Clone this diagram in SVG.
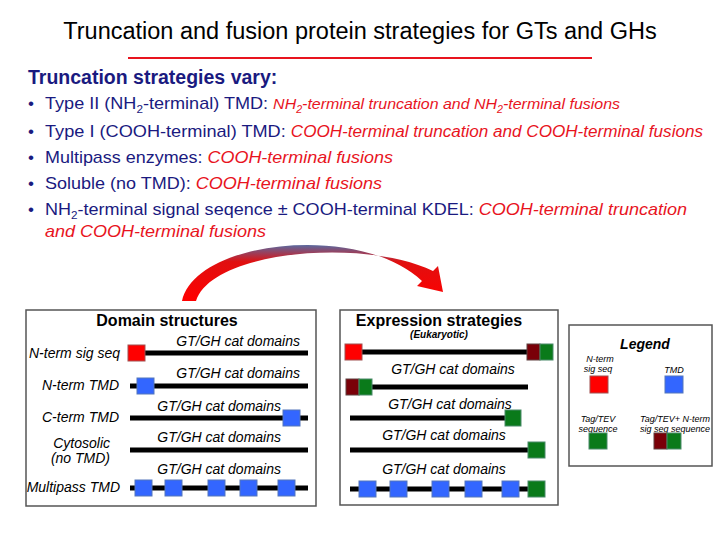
<svg xmlns="http://www.w3.org/2000/svg" width="720" height="540" viewBox="0 0 720 540">
<defs>
<linearGradient id="ag" x1="0" y1="0" x2="0" y2="1"><stop offset="0" stop-color="#5a6aa0"/><stop offset="0.3" stop-color="#e01010"/><stop offset="1" stop-color="#ff0000"/></linearGradient>
</defs>
<style>
text{font-family:"Liberation Sans",Arial,sans-serif}
.b{font-size:17px;fill:#1a1a80}
.r{fill:#e8141e;font-style:italic}
.lab{font-size:14px;font-style:italic;fill:#000}
.box{fill:#fff;stroke:#555;stroke-width:1.5}
.bar{stroke:#000;stroke-width:5}
.red{fill:#f00;stroke:#a05050;stroke-width:1}
.blu{fill:#3366ff;stroke:#5577bb;stroke-width:1}
.grn{fill:#0a7a1a;stroke:#4a8a6a;stroke-width:1}
.dr{fill:#7a0008;stroke:#604040;stroke-width:1}
</style>
<rect width="720" height="540" fill="#fff"/>
<text x="360" y="39" font-size="23.5" text-anchor="middle">Truncation and fusion protein strategies for GTs and GHs</text>
<line x1="128" y1="58" x2="592" y2="58" stroke="#e8141e" stroke-width="2"/>
<text x="28" y="84" font-size="19.5" font-weight="bold" fill="#1a1a80">Truncation strategies vary:</text>
<g class="b">
<text x="28" y="109" class="b">•</text>
<text x="28" y="137" class="b">•</text>
<text x="28" y="163" class="b">•</text>
<text x="28" y="189" class="b">•</text>
<text x="28" y="215" class="b">•</text>
<text x="45" y="109" class="b" textLength="575" lengthAdjust="spacingAndGlyphs">Type II (NH<tspan font-size="11" dy="4">2</tspan><tspan dy="-4">-terminal) TMD: </tspan><tspan class="r" font-size="15">NH<tspan font-size="10" dy="4">2</tspan><tspan dy="-4">-terminal truncation and NH</tspan><tspan font-size="10" dy="4">2</tspan><tspan dy="-4">-terminal fusions</tspan></tspan></text>
<text x="45" y="137" class="b" textLength="658" lengthAdjust="spacingAndGlyphs">Type I (COOH-terminal) TMD: <tspan class="r" font-size="16">COOH-terminal truncation and COOH-terminal fusions</tspan></text>
<text x="45" y="163" class="b" textLength="348" lengthAdjust="spacingAndGlyphs">Multipass enzymes: <tspan class="r">COOH-terminal fusions</tspan></text>
<text x="45" y="189" class="b" textLength="337" lengthAdjust="spacingAndGlyphs">Soluble (no TMD): <tspan class="r">COOH-terminal fusions</tspan></text>
<text x="45" y="215" class="b" textLength="642" lengthAdjust="spacingAndGlyphs">NH<tspan font-size="11" dy="4">2</tspan><tspan dy="-4">-terminal signal seqence ± COOH-terminal KDEL: </tspan><tspan class="r">COOH-terminal truncation</tspan></text>
<text x="45" y="237" class="b" textLength="221" lengthAdjust="spacingAndGlyphs"><tspan class="r">and COOH-terminal fusions</tspan></text>
</g>
<g id="arrow">
<path d="M182,301 C195,240 360,222 422,281 L417,286 L443,292 L438,266 L433,271 C365,238 212,250 196,301 Z" fill="url(#ag)"/>
</g>
<g id="domain">
<rect class="box" x="26" y="310" width="290" height="196"/>
<text x="167" y="326" font-size="16" font-weight="bold" text-anchor="middle">Domain structures</text>
<g class="lab" text-anchor="end">
<text x="120" y="358">N-term sig seq</text>
<text x="119" y="390">N-term TMD</text>
<text x="119" y="422">C-term TMD</text>
<text x="110" y="448">Cytosolic</text>
<text x="110" y="463">(no TMD)</text>
<text x="120" y="492">Multipass TMD</text>
</g>
<g class="lab" text-anchor="end">
<text x="300" y="346">GT/GH cat domains</text>
<text x="300" y="378">GT/GH cat domains</text>
<text x="281" y="411">GT/GH cat domains</text>
<text x="281" y="442">GT/GH cat domains</text>
<text x="281" y="474">GT/GH cat domains</text>
</g>
<line class="bar" x1="130" y1="353" x2="308" y2="353"/>
<rect class="red" x="128" y="345" width="17" height="16"/>
<line class="bar" x1="130" y1="386" x2="308" y2="386"/>
<rect class="blu" x="137" y="378" width="17" height="16"/>
<line class="bar" x1="130" y1="418" x2="308" y2="418"/>
<rect class="blu" x="283" y="410" width="17" height="16"/>
<line class="bar" x1="130" y1="450" x2="308" y2="450"/>
<line class="bar" x1="130" y1="488" x2="308" y2="488"/>
<rect class="blu" x="135" y="480" width="17" height="16"/>
<rect class="blu" x="165" y="480" width="17" height="16"/>
<rect class="blu" x="208" y="480" width="17" height="16"/>
<rect class="blu" x="240" y="480" width="17" height="16"/>
<rect class="blu" x="278" y="480" width="17" height="16"/>
</g>
<g id="expression">
<rect class="box" x="340" y="310" width="218" height="195"/>
<text x="439" y="326" font-size="16" font-weight="bold" text-anchor="middle">Expression strategies</text>
<text x="439" y="338" font-size="10" font-weight="bold" font-style="italic" text-anchor="middle">(Eukaryotic)</text>
<g class="lab" text-anchor="middle">
<text x="453" y="374">GT/GH cat domains</text>
<text x="450" y="409">GT/GH cat domains</text>
<text x="444" y="440">GT/GH cat domains</text>
<text x="444" y="474">GT/GH cat domains</text>
</g>
<line class="bar" x1="348" y1="352" x2="530" y2="352"/>
<rect class="red" x="345" y="344" width="17" height="16"/>
<rect class="dr" x="527" y="344" width="13" height="16"/>
<rect class="grn" x="540" y="344" width="13" height="16"/>
<line class="bar" x1="350" y1="387" x2="528" y2="387"/>
<rect class="dr" x="346" y="379" width="13" height="16"/>
<rect class="grn" x="359" y="379" width="13" height="16"/>
<line class="bar" x1="350" y1="418" x2="510" y2="418"/>
<rect class="grn" x="505" y="410" width="16" height="16"/>
<line class="bar" x1="350" y1="450" x2="530" y2="450"/>
<rect class="grn" x="528" y="442" width="17" height="16"/>
<line class="bar" x1="350" y1="489" x2="530" y2="489"/>
<rect class="blu" x="359" y="481" width="17" height="16"/>
<rect class="blu" x="390" y="481" width="17" height="16"/>
<rect class="blu" x="432" y="481" width="17" height="16"/>
<rect class="blu" x="465" y="481" width="17" height="16"/>
<rect class="blu" x="502" y="481" width="17" height="16"/>
<rect class="grn" x="528" y="481" width="17" height="16"/>
</g>
<g id="legend">
<rect class="box" x="569" y="325" width="143" height="141" stroke="#222"/>
<text x="645" y="349" font-size="14" font-weight="bold" font-style="italic" text-anchor="middle">Legend</text>
<g font-size="9" font-style="italic" text-anchor="middle">
<text x="600" y="362">N-term</text>
<text x="598" y="372">sig seq</text>
<text x="674" y="373">TMD</text>
<text x="598" y="422">Tag/TEV</text>
<text x="598" y="432">sequence</text>
<text x="675" y="422">Tag/TEV+ N-term</text>
<text x="675" y="432">sig seq sequence</text>
</g>
<rect class="red" x="590" y="376" width="18" height="17"/>
<rect class="blu" x="665" y="376" width="18" height="17"/>
<rect class="grn" x="589" y="433" width="18" height="16"/>
<rect class="dr" x="654" y="433" width="13" height="16"/>
<rect class="grn" x="667" y="433" width="14" height="16"/>
</g>
</svg>
